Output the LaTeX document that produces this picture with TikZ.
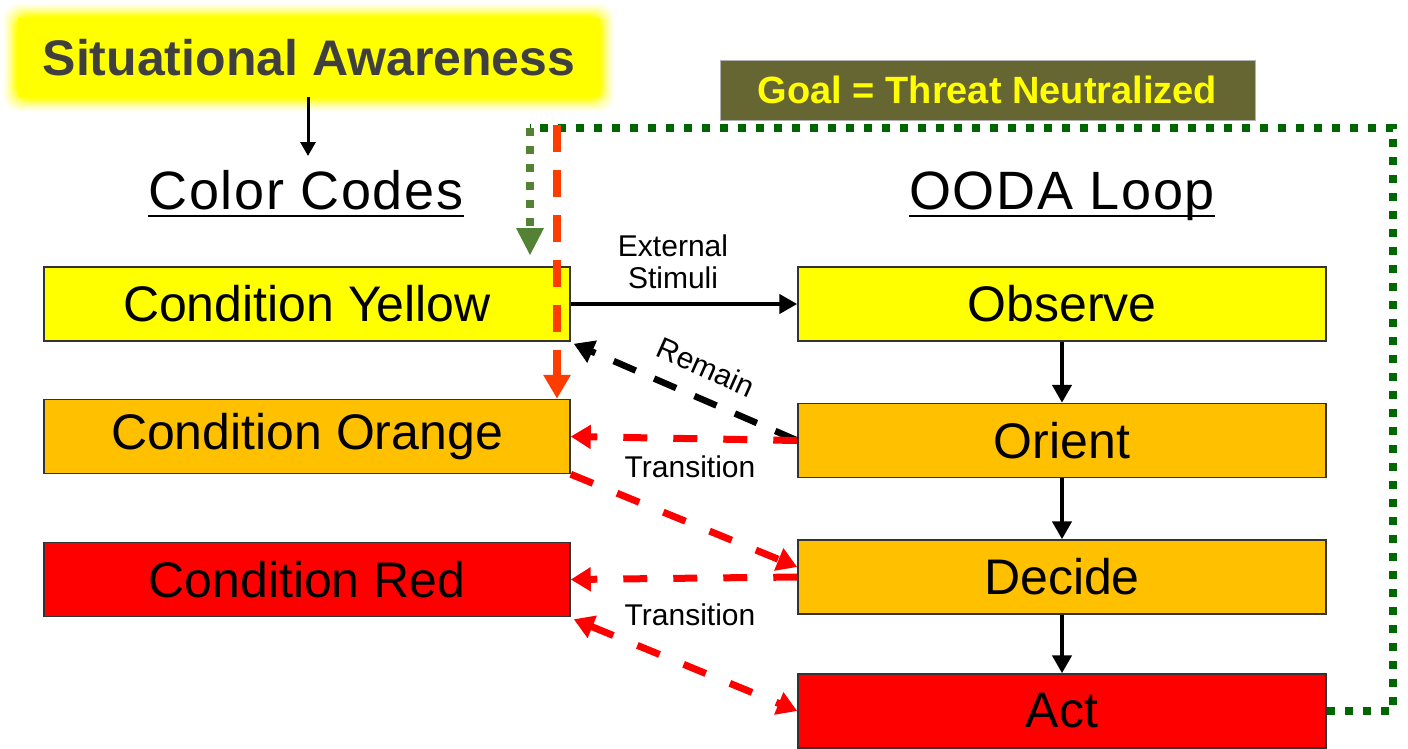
\documentclass[tikz,border=0pt]{standalone}
\usepackage{fontspec}
\setmainfont{Liberation Sans}
\usetikzlibrary{arrows.meta}
\definecolor{cyel}{HTML}{FFFF00}
\definecolor{corg}{HTML}{FFC000}
\definecolor{cred}{HTML}{FF0000}
\definecolor{goalbg}{HTML}{666633}
\definecolor{dgreen}{HTML}{006600}
\definecolor{lgreen}{HTML}{548235}
\definecolor{orred}{HTML}{FF3C00}
\definecolor{satext}{HTML}{3F3F3F}
\definecolor{boxline}{HTML}{333333}
\begin{document}
\begin{tikzpicture}[x=1pt,y=-1pt,
  box/.style={draw=boxline, line width=1.5pt, minimum height=74pt, inner sep=0pt,
    font=\fontsize{50}{60}\selectfont},
  lbox/.style={box, minimum width=526pt},
  rbox/.style={box, minimum width=528pt},
  heading/.style={inner sep=0pt, anchor=base, font=\fontsize{54}{64}\selectfont\addfontfeature{LetterSpace=3}},
  small/.style={inner sep=0pt, align=center, font=\fontsize{30}{36}\selectfont},
  blk/.style={draw=black, line width=4.5pt, -{Triangle[length=18pt,width=19pt]}},
  thinblk/.style={draw=black, line width=3pt, -{Triangle[length=14pt,width=15pt]}},
  reddash/.style={draw=cred, line width=7pt, dash pattern=on 24pt off 26pt},
  redtip/.style={-{Triangle[length=20pt,width=23pt]}},
  greendot/.style={line width=8pt, dash pattern=on 8pt off 10pt}
]
\useasboundingbox (0,0) rectangle (1408,748);
\fill[white] (0,0) rectangle (1408,748);

% glow of the Situational Awareness box
\foreach \g/\o in {14/0.08,12/0.10,10/0.15,8/0.2,6/0.3,4/0.45,2/0.7}{
  \fill[cyel, opacity=\o, rounded corners=14pt] (18-\g,18-\g) rectangle (600+\g,97+\g);
}
\node[fill=cyel, minimum width=582pt, minimum height=79pt, inner sep=0pt,
  font=\fontsize{50}{60}\selectfont\bfseries, text=satext] (sa) at (309,57.5) {Situational Awareness};

% headings
\node[heading] (cc) at (306,209) {Color Codes};
\node[heading] (ooda) at (1062,209) {OODA Loop};
\draw[line width=2.5pt] ([yshift=-7pt]cc.base west) -- ([yshift=-7pt]cc.base east);
\draw[line width=2.5pt] ([yshift=-7pt]ooda.base west) -- ([yshift=-7pt]ooda.base east);
\coordinate (ccn) at (308,156);
\draw[thinblk] (sa.south -| ccn) -- (ccn);

% goal box
\node[fill=goalbg, draw=gray!60, line width=1pt, minimum width=535pt, minimum height=60pt, inner sep=0pt,
  font=\fontsize{38}{46}\selectfont\bfseries, text=cyel] (goal) at (987.5,90) {Goal = Threat Neutralized};

% left boxes
\node[lbox, fill=cyel] (cy) at (307,304) {Condition Yellow};
\node[lbox, fill=corg] (co) at (307,436.5) {Condition Orange};
\node[lbox, fill=cred] (cr) at (307,579.5) {Condition Red};

% right boxes
\node[rbox, fill=cyel] (obs) at (1062,304) {Observe};
\node[rbox, fill=corg] (ori) at (1062,440.5) {Orient};
\node[rbox, fill=corg] (dec) at (1062,577) {Decide};
\node[rbox, fill=cred] (act) at (1062,711) {Act};

% OODA vertical arrows
\draw[blk] (obs.south) -- (ori.north);
\draw[blk] (ori.south) -- (dec.north);
\draw[blk] (dec.south) -- (act.north);

% external stimuli
\draw[blk] (cy.east) -- (obs.west);
\node[small] (ext) at (673,262) {External\\[-4pt]Stimuli};

% remain
\draw[draw=black, line width=6.5pt, dash pattern=on 24pt off 20pt, -{Triangle[length=20pt,width=23pt]}]
  (ori.west) -- ([shift={(3pt,-2pt)}]cy.south east);
\node[small, rotate=-24] (rem) at (706,367) {Remain};

% transitions
\draw[reddash, redtip, cred] (ori.west) -- (co.east);
\node[small] (tr1) at (690,467) {Transition};
\draw[reddash, redtip, cred] (co.south east) -- ([yshift=10pt]dec.west);
\draw[reddash, redtip, cred] (dec.west) -- (cr.east);
\node[small] (tr2) at (690,615) {Transition};
\draw[reddash, cred, {Triangle[length=20pt,width=23pt]}-{Triangle[length=20pt,width=23pt]}]
  ([shift={(3pt,-2pt)}]cr.south east) -- (act.west);

% green dotted goal loop
\coordinate (g0) at (1393,711);
\coordinate (g1) at (1393,128);
\coordinate (g2) at (530,128);
\coordinate (g3) at (530,255);
\draw[greendot, dgreen] (act.east) -- (g0) -- (g1) -- (g2);
\draw[greendot, lgreen] (g2) -- (530,226);
\fill[lgreen] (g3) -- ++(-14,-27) -- ++(28,0) -- cycle;

% orange-red vertical dashed arrow
\coordinate (ot) at (557,125);
\draw[orred, line width=8pt, dash pattern=on 27pt off 18pt, -{Triangle[length=24pt,width=26pt]}]
  (ot) -- (ot |- co.north);
\end{tikzpicture}
\end{document}
